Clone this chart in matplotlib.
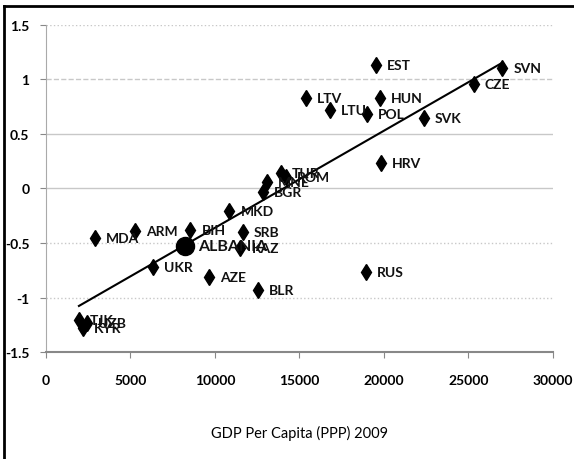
import numpy as np
import matplotlib.pyplot as plt

# GDP per capita (PPP, 2009) vs index score
countries = ["EST", "SVN", "CZE", "LTV", "LTU", "HUN", "POL", "SVK", "HRV",
             "RUS", "MDA", "ARM", "BIH", "SRB", "KAZ", "MKD", "UKR", "AZE",
             "BLR", "BGR", "MNE", "TUR", "ROM", "TJK", "UZB", "KYR"]
gdp = [19500, 27000, 25300, 15400, 16800, 19750, 19000, 22350, 19800,
       18950, 2900, 5250, 8550, 11650, 11500, 10850, 6350, 9650,
       12550, 12850, 13050, 13900, 14200, 1950, 2400, 2200]
score = [1.13, 1.11, 0.96, 0.83, 0.72, 0.83, 0.68, 0.65, 0.23,
         -0.77, -0.45, -0.39, -0.38, -0.40, -0.55, -0.21, -0.72, -0.81,
         -0.93, -0.03, 0.06, 0.14, 0.11, -1.21, -1.23, -1.28]

alb_gdp = 8200
alb_score = -0.53

fam = ["Lato", "DejaVu Sans"]

fig = plt.figure(figsize=(5.74, 4.60), dpi=100)
ax = fig.add_axes([0.0801, 0.2326, 0.8833, 0.7109])

# gridlines, styles as in the original sheet
grid_styles = {1.5: ":", 1.0: "--", 0.5: "-", 0.0: "-", -0.5: ":", -1.0: ":"}
for yv, ls in grid_styles.items():
    ax.axhline(yv, color="#c8c8c8", lw=1.0, ls=ls, zorder=0)

# linear trendline over all countries incl. Albania
all_x = np.array(gdp + [alb_gdp])
all_y = np.array(score + [alb_score])
k, b = np.polyfit(all_x, all_y, 1)
xs = np.array([all_x.min(), all_x.max()])
ax.plot(xs, k * xs + b, color="black", lw=1.5, zorder=2)

ax.plot(gdp, score, ls="none", marker="d", ms=8.5, color="black", zorder=3)
ax.plot([alb_gdp], [alb_score], ls="none", marker="o", ms=13, color="black", zorder=3)

for name, x, y in zip(countries, gdp, score):
    ax.annotate(name, (x, y), xytext=(8, 0), textcoords="offset points",
                va="center", ha="left", fontsize=10, family=fam,
                fontweight="bold", color="#111111")
ax.annotate("ALBANIA", (alb_gdp, alb_score), xytext=(10, 0),
            textcoords="offset points", va="center", ha="left",
            fontsize=11.5, family=fam, fontweight="bold", color="#111111")

ax.set_xlim(0, 30000)
ax.set_ylim(-1.5, 1.5)
ax.set_xticks(np.arange(0, 30001, 5000))
ax.set_yticks([-1.5, -1, -0.5, 0, 0.5, 1, 1.5])
ax.set_yticklabels(["-1.5", "-1", "-0.5", "0", "0.5", "1", "1.5"])
for lab in ax.get_xticklabels() + ax.get_yticklabels():
    lab.set_family(fam)
    lab.set_fontsize(10)
    lab.set_fontweight("bold")
ax.tick_params(axis="x", length=4, color="#888888", pad=12)
ax.tick_params(axis="y", length=4, color="#888888", pad=8)

for s in ["top", "right"]:
    ax.spines[s].set_visible(False)
ax.spines["left"].set_color("#aaaaaa")
ax.spines["bottom"].set_color("#888888")
ax.spines["bottom"].set_linewidth(1.5)

ax.set_xlabel("GDP Per Capita (PPP) 2009", family=fam, fontsize=10.5,
              labelpad=28)

# chart frame
fig.add_artist(plt.Line2D([4 / 574, 4 / 574], [0, 1 - 7 / 460],
                          transform=fig.transFigure, color="black", lw=2))
fig.add_artist(plt.Line2D([4 / 574, 1], [1 - 7 / 460, 1 - 7 / 460],
                          transform=fig.transFigure, color="black", lw=2))

fig.savefig("out.png", dpi=100)
